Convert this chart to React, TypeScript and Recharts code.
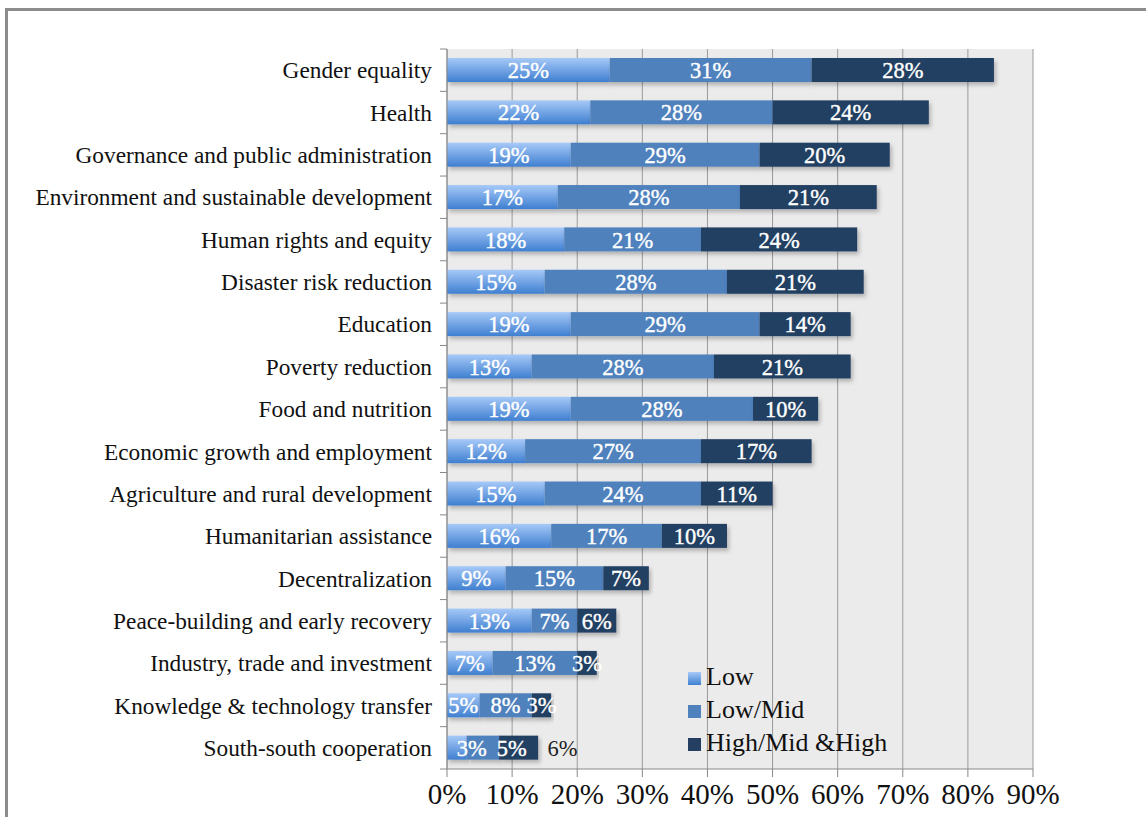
import React from "react";
import { BarChart, Bar, XAxis, YAxis, CartesianGrid, LabelList } from "recharts";

const categories = [
  "Gender equality",
  "Health",
  "Governance and public administration",
  "Environment and sustainable development",
  "Human rights and equity",
  "Disaster risk reduction",
  "Education",
  "Poverty reduction",
  "Food and nutrition",
  "Economic growth and employment",
  "Agriculture and rural development",
  "Humanitarian assistance",
  "Decentralization",
  "Peace-building and early recovery",
  "Industry, trade and investment",
  "Knowledge & technology transfer",
  "South-south cooperation",
];

const lowValues = [25, 22, 19, 17, 18, 15, 19, 13, 19, 12, 15, 16, 9, 13, 7, 5, 3];
const lowMidValues = [31, 28, 29, 28, 21, 28, 29, 28, 28, 27, 24, 17, 15, 7, 13, 8, 5];
const highValues = [28, 24, 20, 21, 24, 21, 14, 21, 10, 17, 11, 10, 7, 6, 3, 3, 6];

const xTicks = [0, 10, 20, 30, 40, 50, 60, 70, 80, 90];

const data = categories.map((name, i) => ({
  name,
  low: lowValues[i],
  lowMid: lowMidValues[i],
  high: highValues[i],
}));

const W = 1146;
const H = 817;
const TOP = 49;
const BOTTOM = 769;
const LEFT = 447;
const RIGHT = 1033;
const BAND = (BOTTOM - TOP) / categories.length;
const FONT = '"Liberation Serif", "Times New Roman", serif';

const CategoryTick = (props: any) => {
  const { y, payload, index } = props;
  return (
    <g>
      <text
        x={LEFT - 15}
        y={y}
        dy="0.35em"
        textAnchor="end"
        fontFamily={FONT}
        fontSize={23.3}
        fill="#111"
      >
        {payload.value}
      </text>
      <line x1={LEFT - 7} x2={LEFT} y1={y - BAND / 2} y2={y - BAND / 2} stroke="#888" />
      {index === categories.length - 1 && (
        <line x1={LEFT - 7} x2={LEFT} y1={y + BAND / 2} y2={y + BAND / 2} stroke="#888" />
      )}
    </g>
  );
};

// the last row in the original has its labels pushed to the right
const makeLabel = (series: number) => (props: any) => {
  const { x, y, width, height, value, index } = props;
  const last = index === categories.length - 1;
  const shift = last ? [15, 29, 44][series] : 0;
  const outside = last && series === 2;
  const color = outside ? "#222" : "#fff";
  return (
    <text
      x={x + width / 2 + shift}
      y={y + height / 2}
      dy="0.36em"
      textAnchor="middle"
      fontFamily={FONT}
      fontSize={22.5}
      fill={color}
      stroke={outside ? "none" : color}
      strokeWidth={0.4}
    >
      {value}%
    </text>
  );
};

const ShadowBar = (props: any) => (
  <rect
    x={props.x}
    y={props.y}
    width={props.width}
    height={props.height}
    fill={props.fill}
    filter="url(#barShadow)"
  />
);

const legendItems = [
  { label: "Low", bg: "linear-gradient(#a6c9f8, #3f7fd0)" },
  { label: "Low/Mid", bg: "#4f81bd" },
  { label: "High/Mid &High", bg: "#243f62" },
];

const ChartLegend = () => (
  <div
    style={{
      position: "absolute",
      left: 688,
      top: 660,
      fontFamily: FONT,
      fontSize: 26,
      color: "#111",
      lineHeight: 1,
    }}
  >
    {legendItems.map((item) => (
      <div key={item.label} style={{ display: "flex", alignItems: "center", height: 33 }}>
        <span
          style={{
            display: "inline-block",
            width: 13,
            height: 13,
            background: item.bg,
            marginRight: 5,
            marginTop: 3,
          }}
        />
        <span>{item.label}</span>
      </div>
    ))}
  </div>
);

export default function App() {
  return (
    <div
      style={{
        position: "absolute",
        left: 0,
        top: 0,
        width: W,
        height: H,
        overflow: "hidden",
        background: "#fff",
      }}
    >
      <div
        style={{
          position: "absolute",
          left: 5,
          top: 8,
          width: W + 20,
          height: H + 20,
          borderTop: "3px solid #8c8c8c",
          borderLeft: "3px solid #8c8c8c",
        }}
      />
      <div style={{ position: "absolute", left: 0, top: 0 }}>
        <BarChart
          width={W}
          height={H}
          data={data}
          layout="vertical"
          margin={{ top: TOP, right: W - RIGHT, bottom: 0, left: 0 }}
          barSize={24}
        >
          <defs>
            <linearGradient id="lowGrad" x1="0" y1="0" x2="0" y2="1">
              <stop offset="0%" stopColor="#a6c9f8" />
              <stop offset="100%" stopColor="#3f7fd0" />
            </linearGradient>
            <filter id="barShadow" x="-5%" y="-20%" width="115%" height="160%">
              <feDropShadow dx="2" dy="3" stdDeviation="2" floodColor="#000" floodOpacity="0.25" />
            </filter>
          </defs>
          <CartesianGrid horizontal={false} fill="#ebebeb" stroke="#9a9a9a" />
          <XAxis
            type="number"
            domain={[0, 90]}
            ticks={xTicks}
            interval={0}
            tickFormatter={(v: number) => `${v}%`}
            tick={{ fontSize: 29, fontFamily: FONT, fill: "#111" }}
            tickSize={8}
            tickMargin={6}
            axisLine={{ stroke: "#888" }}
            tickLine={{ stroke: "#888" }}
            height={H - BOTTOM}
          />
          <YAxis
            type="category"
            dataKey="name"
            width={LEFT}
            interval={0}
            tickLine={false}
            axisLine={{ stroke: "#888" }}
            tick={<CategoryTick />}
          />
          <Bar
            dataKey="low"
            name="Low"
            stackId="a"
            fill="url(#lowGrad)"
            shape={<ShadowBar />}
            isAnimationActive={false}
          >
            <LabelList dataKey="low" content={makeLabel(0)} />
          </Bar>
          <Bar
            dataKey="lowMid"
            name="Low/Mid"
            stackId="a"
            fill="#4f81bd"
            shape={<ShadowBar />}
            isAnimationActive={false}
          >
            <LabelList dataKey="lowMid" content={makeLabel(1)} />
          </Bar>
          <Bar
            dataKey="high"
            name="High/Mid &High"
            stackId="a"
            fill="#243f62"
            shape={<ShadowBar />}
            isAnimationActive={false}
          >
            <LabelList dataKey="high" content={makeLabel(2)} />
          </Bar>
        </BarChart>
      </div>
      <ChartLegend />
    </div>
  );
}
